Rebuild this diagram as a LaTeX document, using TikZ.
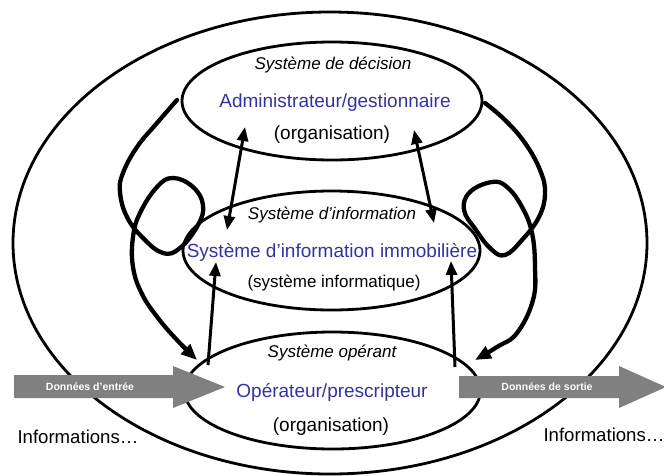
\documentclass[tikz,border=0pt]{standalone}
\usepackage{fontspec}
\setmainfont{Liberation Sans}
\usetikzlibrary{arrows.meta,shapes.geometric}
\definecolor{txtblue}{RGB}{51,51,160}
\definecolor{arrgray}{RGB}{128,128,128}
\begin{document}
\begin{tikzpicture}[x=1pt,y=-1pt,
  ell/.style={draw, ellipse, line width=2.8pt, inner sep=0pt, outer sep=0pt},
  itxt/.style={font=\fontsize{17}{20}\selectfont\itshape, inner sep=0pt},
  bluetxt/.style={font=\fontsize{19}{22}\selectfont, text=txtblue, inner sep=0pt},
  ptxt/.style={font=\fontsize{19}{22}\selectfont, inner sep=0pt},
  stxt/.style={font=\fontsize{17}{20}\selectfont, inner sep=0pt},
  datatxt/.style={font=\fontsize{10.5}{12}\selectfont\bfseries, text=white, inner sep=0pt},
  loop/.style={line width=4.3pt, line cap=round, line join=round, -{Triangle[length=16pt,width=13pt]}},
  link/.style={line width=3pt, -{Triangle[length=14pt,width=11pt]}},
  dlink/.style={line width=3pt, {Triangle[length=14pt,width=11pt]}-{Triangle[length=14pt,width=11pt]}},
  bigarrow/.style={fill=arrgray}
]
\useasboundingbox (0,0) rectangle (664,475);

% ellipses
\node[ell, minimum width=634pt, minimum height=462pt] (outer) at (330,243) {};
\node[ell, minimum width=300pt, minimum height=118pt] (dec) at (332,101) {};
\node[ell, minimum width=297pt, minimum height=119pt] (info) at (331.5,250.5) {};
\node[ell, minimum width=296pt, minimum height=117pt] (oper) at (332.5,390.5) {};

% texts
\node[itxt] (dect) at (333,65) {Système de décision};
\node[bluetxt] (decn) at (335,103) {Administrateur/gestionnaire};
\node[ptxt] (deco) at (332,135) {(organisation)};

\node[itxt] (infot) at (332,215) {Système d’information};
\node[bluetxt] (infon) at (332,252) {Système d’information immobilière};
\node[stxt] (infoo) at (334,283) {(système informatique)};

\node[itxt] (opert) at (332,353) {Système opérant};
\node[bluetxt] (opern) at (332,392) {Opérateur/prescripteur};
\node[ptxt] (opero) at (331,427) {(organisation)};

% anchor coordinates for connectors
\coordinate (l1a) at (245,127);
\coordinate (l1b) at (227,230);
\coordinate (r1a) at (414,130);
\coordinate (r1b) at (434,223);
\coordinate (l2a) at (208,365);
\coordinate (l2b) at (216,262);
\coordinate (r2a) at (455,367);
\coordinate (r2b) at (451,261);

\draw[dlink] (l1a) -- (l1b);
\draw[dlink] (r1a) -- (r1b);
\draw[link] (l2a) -- (l2b);
\draw[link] (r2a) -- (r2b);

% loops
\coordinate (lls) at (177,100);
\coordinate (lle) at (197,360);
\coordinate (rls) at (485,103);
\coordinate (rle) at (475,360);

\draw[loop] plot[smooth, tension=0.7] coordinates {
  (lls) (157,123) (137,147) (123,173) (120,192) (127,217) (143,238)
  (163,253) (180,248) (198,225) (203,205) (193,187) (173,178)
  (157,187) (140,213) (133,237) (133,267) (142,294) (158,318)
  (177,340) (lle)};

\draw[loop] plot[smooth, tension=0.7] coordinates {
  (rls) (505,120) (525,143) (540,170) (545,193) (539,217) (522,240)
  (505,255) (491,249) (476,230) (464,210) (470,192) (492,182)
  (507,187) (522,207) (532,233) (535,267) (533,300) (517,333)
  (497,347) (rle)};

% data arrows
\fill[bigarrow] (14,375) -- (173,375) -- (173,366) -- (225,387) -- (173,408) -- (173,398) -- (14,398) -- cycle;
\node[datatxt] (din) at (90,387) {Données d’entrée};
\fill[bigarrow] (459,376) -- (619,376) -- (619,366) -- (666,387) -- (619,408) -- (619,398) -- (459,398) -- cycle;
\node[datatxt] (dout) at (547,387) {Données de sortie};

\node[font=\fontsize{18.6}{22}\selectfont, inner sep=0pt] (infl) at (78,437) {Informations…};
\node[font=\fontsize{18.6}{22}\selectfont, inner sep=0pt] (infr) at (604,435) {Informations…};
\end{tikzpicture}
\end{document}
